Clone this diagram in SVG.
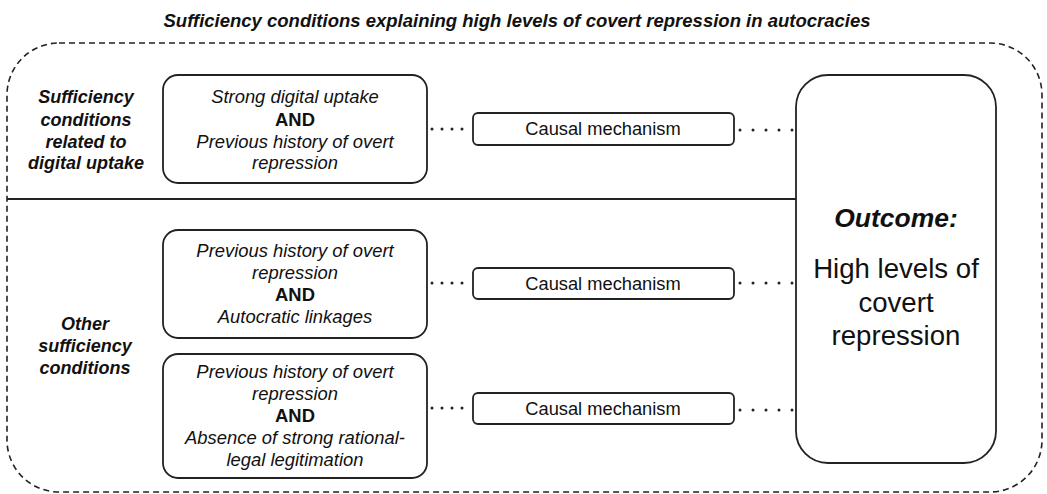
<svg xmlns="http://www.w3.org/2000/svg" width="1047" height="494" viewBox="0 0 1047 494">
<style>
.box{fill:#fff;stroke:#222;stroke-width:1.8}
.t{font-family:"Liberation Sans",Arial,sans-serif;fill:#111;text-anchor:middle}
.i{font-style:italic;font-size:18.4px}
.b{font-weight:bold;font-size:18.4px}
.bi{font-weight:bold;font-style:italic;font-size:18px}
.m{font-size:18.3px}
.dot{stroke:#222;stroke-width:3;stroke-linecap:round;fill:none}
</style>
<rect width="1047" height="494" fill="#fff"/>
<text class="t" x="517" y="27" style="font-weight:bold;font-style:italic;font-size:18.5px">Sufficiency conditions explaining high levels of covert repression in autocracies</text>
<rect x="7" y="43" width="1035" height="449" rx="52" ry="52" fill="none" stroke="#222" stroke-width="1.6" stroke-dasharray="6 4"/>
<line x1="7" y1="199" x2="796" y2="199" stroke="#222" stroke-width="2"/>
<g id="label-digital">
<text class="t bi" x="86" y="103">Sufficiency</text>
<text class="t bi" x="86" y="126">conditions</text>
<text class="t bi" x="86" y="148">related to</text>
<text class="t bi" x="86" y="169">digital uptake</text>
</g>
<g id="label-other">
<text class="t bi" x="85" y="330">Other</text>
<text class="t bi" x="85" y="352">sufficiency</text>
<text class="t bi" x="85" y="374">conditions</text>
</g>
<g id="connectors">
<path class="dot" stroke-dasharray="0 10" d="M432 129H463M432 283H463M432 408H463"/>
<path class="dot" stroke-dasharray="0 13" d="M740 130H793M740 283H793M740 410H793"/>
</g>
<g id="cond1">
<rect class="box" x="163" y="75" width="264" height="108" rx="15"/>
<text class="t i" x="295" y="103">Strong digital uptake</text>
<text class="t b" x="295" y="126">AND</text>
<text class="t i" x="295" y="148">Previous history of overt</text>
<text class="t i" x="295" y="169">repression</text>
</g>
<g id="cond2">
<rect class="box" x="163" y="230" width="264" height="108" rx="15"/>
<text class="t i" x="295" y="257">Previous history of overt</text>
<text class="t i" x="295" y="279">repression</text>
<text class="t b" x="295" y="301">AND</text>
<text class="t i" x="295" y="323">Autocratic linkages</text>
</g>
<g id="cond3">
<rect class="box" x="163" y="354" width="264" height="124" rx="15"/>
<text class="t i" x="295" y="378">Previous history of overt</text>
<text class="t i" x="295" y="400">repression</text>
<text class="t b" x="295" y="422">AND</text>
<text class="t i" x="295" y="444">Absence of strong rational-</text>
<text class="t i" x="295" y="466">legal legitimation</text>
</g>
<g id="mech1">
<rect class="box" x="473" y="113" width="261" height="32" rx="5"/>
<text class="t m" x="603" y="135">Causal mechanism</text>
</g>
<g id="mech2">
<rect class="box" x="473" y="268" width="261" height="31" rx="5"/>
<text class="t m" x="603" y="290">Causal mechanism</text>
</g>
<g id="mech3">
<rect class="box" x="473" y="393" width="261" height="31" rx="5"/>
<text class="t m" x="603" y="415">Causal mechanism</text>
</g>
<g id="outcome">
<rect class="box" x="796" y="75" width="200" height="388" rx="32"/>
<text class="t" x="896" y="227" style="font-weight:bold;font-style:italic;font-size:26.5px">Outcome:</text>
<text class="t" x="896" y="278" style="font-size:27.6px">High levels of</text>
<text class="t" x="896" y="312" style="font-size:27.6px">covert</text>
<text class="t" x="896" y="345" style="font-size:27.6px">repression</text>
</g>
</svg>
